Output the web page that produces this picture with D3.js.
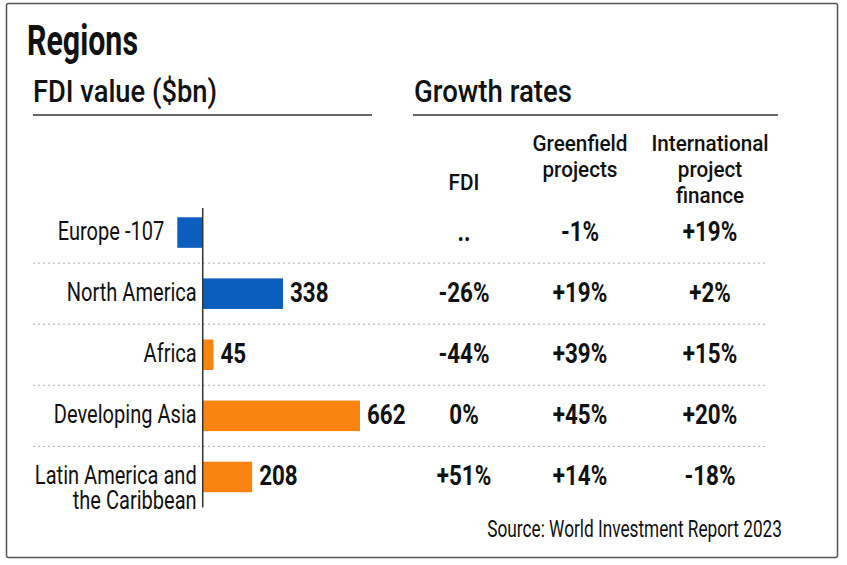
<!DOCTYPE html>
<html>
<head>
<meta charset="utf-8">
<script src="https://cdn.jsdelivr.net/npm/d3@7/dist/d3.min.js"></script>
<style>
  html, body { margin: 0; padding: 0; background: #fff; }
  svg { display: block; }
  text { font-family: Roboto, "Noto Sans", sans-serif; fill: #111; }
</style>
</head>
<body>
<svg id="chart" width="847" height="565"></svg>
<script>
// ---- data ----
const regions = ["Europe", "North America", "Africa", "Developing Asia", "Latin America and the Caribbean"];
const regionLabelLines = [["Europe"], ["North America"], ["Africa"], ["Developing Asia"], ["Latin America and", "the Caribbean"]];
const fdiValue = [-107, 338, 45, 662, 208];
const economyGroup = ["developed", "developed", "developing", "developing", "developing"];
const growthColumns = ["FDI", "Greenfield projects", "International project finance"];
const growthColumnLines = [["FDI"], ["Greenfield", "projects"], ["International", "project", "finance"]];
const fdiGrowth = ["..", "-26%", "-44%", "0%", "+51%"];
const greenfieldGrowth = ["-1%", "+19%", "+39%", "+45%", "+14%"];
const projectFinanceGrowth = ["+19%", "+2%", "+15%", "+20%", "-18%"];
const growthSeries = [fdiGrowth, greenfieldGrowth, projectFinanceGrowth];

const svg = d3.select("#chart");
const color = d3.scaleOrdinal().domain(["developed", "developing"]).range(["#0b5ebe", "#fb8411"]);

// condense text horizontally (the reference uses a condensed face)
function measure(str, size, weight) {
  const t = svg.append("text").attr("font-size", size).attr("font-weight", weight).text(str);
  const w = t.node().getComputedTextLength();
  t.remove();
  return w;
}
function condense(sel, factor) {
  sel.each(function () {
    const w = this.getComputedTextLength();
    if (w > 0) d3.select(this).attr("textLength", w * factor).attr("lengthAdjust", "spacingAndGlyphs");
  });
}
function fitWidth(sel, width) {
  sel.attr("textLength", width).attr("lengthAdjust", "spacingAndGlyphs");
}

// frame
svg.append("rect").attr("x", 6.5).attr("y", 3.5).attr("width", 831).attr("height", 554)
  .attr("rx", 2).attr("fill", "#fff").attr("stroke", "#555").attr("stroke-width", 1.5);

// title
fitWidth(svg.append("text").attr("x", 27).attr("y", 55).text("Regions")
  .attr("font-size", 42).attr("font-weight", 700), 111);

// section headers
fitWidth(svg.append("text").attr("x", 33).attr("y", 102).text("FDI value ($bn)")
  .attr("font-size", 31).attr("font-weight", 500), 184);
svg.append("line").attr("x1", 33).attr("x2", 372).attr("y1", 115).attr("y2", 115).attr("stroke", "#333").attr("stroke-width", 1.5);
fitWidth(svg.append("text").attr("x", 414).attr("y", 102).text("Growth rates")
  .attr("font-size", 31).attr("font-weight", 500), 158);
svg.append("line").attr("x1", 413).attr("x2", 778).attr("y1", 115).attr("y2", 115).attr("stroke", "#333").attr("stroke-width", 1.5);

// scales
const x = d3.scaleLinear().domain([d3.min(fdiValue), d3.max(fdiValue)]).range([177.3, 360]);
const y = d3.scaleBand().domain(regions).range([202, 507.5]).paddingInner(0.5).paddingOuter(0.25);
const colCenter = [464, 580, 710];
const mid = r => y(r) + y.bandwidth() / 2;

// row separators
const sepY = regions.slice(0, -1).map(r => mid(r) + y.step() / 2);
svg.append("g").selectAll("line").data(sepY).join("line")
  .attr("x1", 33).attr("x2", 768).attr("y1", d => d).attr("y2", d => d)
  .attr("stroke", "#b0b0b0").attr("stroke-width", 1).attr("stroke-dasharray", "2,3");

// bars
const rows = regions.map((r, i) => ({ region: r, value: fdiValue[i], group: economyGroup[i], lines: regionLabelLines[i] }));
svg.append("g").selectAll("rect").data(rows).join("rect")
  .attr("x", d => x(Math.min(0, d.value)))
  .attr("width", d => Math.abs(x(d.value) - x(0)))
  .attr("y", d => y(d.region))
  .attr("height", y.bandwidth())
  .attr("fill", d => color(d.group));

// zero axis
svg.append("line").attr("x1", x(0)).attr("x2", x(0)).attr("y1", 208).attr("y2", 507.5)
  .attr("stroke", "#333").attr("stroke-width", 1.5);

// category labels (one text per line)
const labelSize = 25.5;
const labelFactor = 130 / measure("North America", labelSize, 400);
const labelLines = [];
rows.forEach(d => d.lines.forEach((ln, k) => {
  const txt = (d.value < 0 && k === d.lines.length - 1) ? ln + " " + d.value : ln;
  labelLines.push({ text: txt, x: d.value < 0 ? x(d.value) - 13 : x(0) - 6, y: mid(d.region) + 7.5 + k * 25 });
}));
svg.append("g").selectAll("text").data(labelLines).join("text")
  .attr("text-anchor", "end").attr("font-size", labelSize)
  .attr("x", d => d.x).attr("y", d => d.y).text(d => d.text)
  .call(condense, labelFactor);

// value labels for positive bars
const valueSize = 28;
const valueFactor = 0.8;
svg.append("g").selectAll("text").data(rows.filter(d => d.value >= 0)).join("text")
  .attr("x", d => x(d.value) + 7)
  .attr("y", d => mid(d.region) + 8)
  .attr("font-size", valueSize).attr("font-weight", 700)
  .text(d => d.value)
  .call(condense, valueFactor);

// growth column headers
const headerSize = 22.5;
const headerFactor = 95 / measure("Greenfield", headerSize, 500);
const headerTop = [190, 151, 151];
const headerLines = [];
growthColumnLines.forEach((lines, c) => lines.forEach((ln, k) =>
  headerLines.push({ text: ln, x: colCenter[c], y: headerTop[c] + k * 26 })));
svg.append("g").selectAll("text").data(headerLines).join("text")
  .attr("text-anchor", "middle").attr("font-size", headerSize).attr("font-weight", 500)
  .attr("x", d => d.x).attr("y", d => d.y).text(d => d.text)
  .call(condense, headerFactor);

// growth values
growthSeries.forEach((series, c) => {
  svg.append("g").selectAll("text").data(series).join("text")
    .attr("text-anchor", "middle")
    .attr("x", colCenter[c])
    .attr("y", (d, i) => mid(regions[i]) + 8)
    .attr("font-size", valueSize).attr("font-weight", 700)
    .text(d => d)
    .call(condense, valueFactor);
});

// source (condensed with a transform)
const srcSize = 23;
const srcScale = 295 / measure("Source: World Investment Report 2023", srcSize, 400);
svg.append("g").attr("transform", `translate(782,537) scale(${srcScale},1)`)
  .append("text").attr("text-anchor", "end").attr("font-size", srcSize)
  .text("Source: World Investment Report 2023");
</script>
</body>
</html>
